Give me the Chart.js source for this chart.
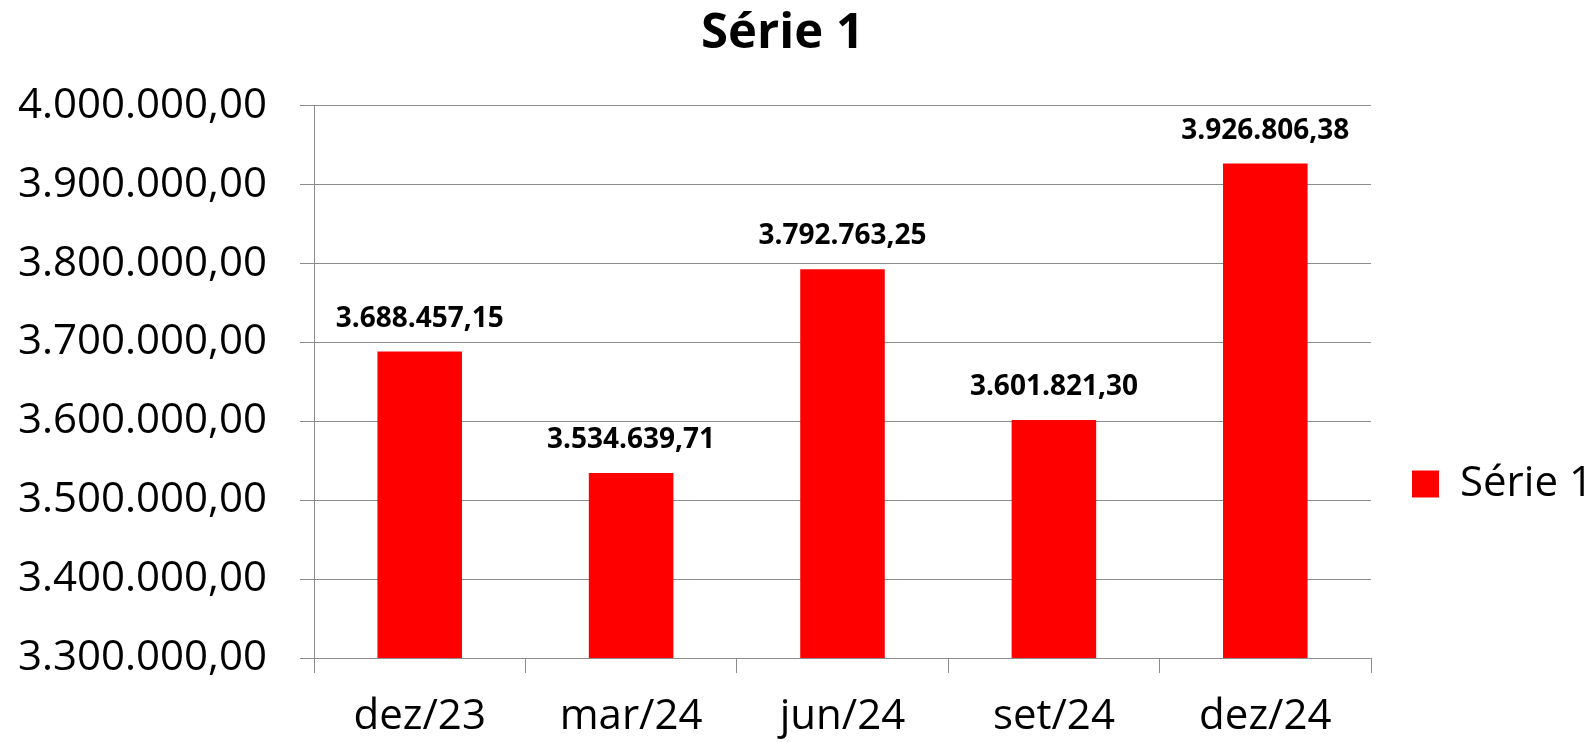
<!DOCTYPE html>
<html><head><meta charset="utf-8">
<script src="https://cdn.jsdelivr.net/npm/chart.js@4/dist/chart.umd.min.js"></script>
<style>html,body{margin:0;padding:0;background:#fff;}#wrap{width:1585px;height:742px;position:relative;}</style>
</head><body><div id="wrap"><canvas id="c" width="1585" height="742"></canvas></div>
<script>
const categories = ['dez/23','mar/24','jun/24','set/24','dez/24'];
const seriesName = 'Série 1';
const values = [3688457.15, 3534639.71, 3792763.25, 3601821.30, 3926806.38];
const yMin = 3300000, yMax = 4000000, yStep = 100000;

function fmtBR(v){
  const neg = v < 0; v = Math.abs(v);
  let [i,d] = v.toFixed(2).split('.');
  i = i.replace(/\B(?=(\d{3})+(?!\d))/g, '.');
  return (neg?'-':'') + i + ',' + d;
}
const FONT = "'Open Sans', 'DejaVu Sans', sans-serif";
const GRID = '#8c8c8c';

const dataLabels = {
  id: 'dataLabels',
  afterDatasetsDraw(chart){
    const ctx = chart.ctx;
    const meta = chart.getDatasetMeta(0);
    ctx.save();
    ctx.font = "bold 28px " + FONT;
    ctx.fillStyle = '#000';
    ctx.textAlign = 'center';
    ctx.textBaseline = 'middle';
    meta.data.forEach((bar, i) => {
      ctx.fillText(fmtBR(chart.data.datasets[0].data[i]), bar.x, bar.y - 33);
    });
    ctx.restore();
  }
};
const legendFix = {
  id: 'legendFix',
  afterInit(chart){
    const lg = chart.legend;
    const f = lg.fit;
    lg.fit = function(){ f.call(this); this.width = 194; };
  },
  afterLayout(chart){
    const lg = chart.legend;
    const w = lg.width;
    lg.left = chart.chartArea.right + 31; lg.right = lg.left + w;
    lg.top += 113; lg.bottom += 113;
  }
};

new Chart(document.getElementById('c'), {
  type: 'bar',
  data: {
    labels: categories,
    datasets: [{
      label: seriesName,
      data: values,
      backgroundColor: '#ff0000',
      borderWidth: 0,
      barPercentage: 0.4,
      categoryPercentage: 1.0
    }]
  },
  options: {
    responsive: false,
    animation: false,
    devicePixelRatio: 1,
    layout: { padding: { top: 0, left: 0, right: 20, bottom: 0 } },
    plugins: {
      title: {
        display: true,
        text: seriesName,
        color: '#000',
        font: { family: FONT, size: 49, weight: 'bold', lineHeight: 1.2 },
        padding: { top: 5, bottom: 42 }
      },
      legend: {
        display: true,
        position: 'right',
        align: 'center',
        labels: {
          color: '#000',
          boxWidth: 27,
          boxHeight: 27,
          padding: 10,
          font: { family: FONT, size: 42 }
        }
      },
      tooltip: { enabled: false }
    },
    scales: {
      x: {
        offset: true,
        grid: { display: true, drawOnChartArea: false, drawTicks: true, tickLength: 15, color: GRID, offset: true },
        border: { display: true, color: GRID, width: 1 },
        ticks: { color: '#000', font: { family: FONT, size: 42 }, padding: 19, maxRotation: 0 },
        afterFit(s){ s.height = 84; }
      },
      y: {
        min: yMin, max: yMax,
        grid: { color: GRID, tickLength: 14, drawTicks: true },
        border: { display: true, color: GRID, width: 1 },
        ticks: { stepSize: yStep, color: '#000', font: { family: FONT, size: 42 }, padding: 33, callback: v => fmtBR(v) },
        afterFit(s){ s.width = 314; }
      }
    }
  },
  plugins: [dataLabels, legendFix]
});
</script></body></html>
